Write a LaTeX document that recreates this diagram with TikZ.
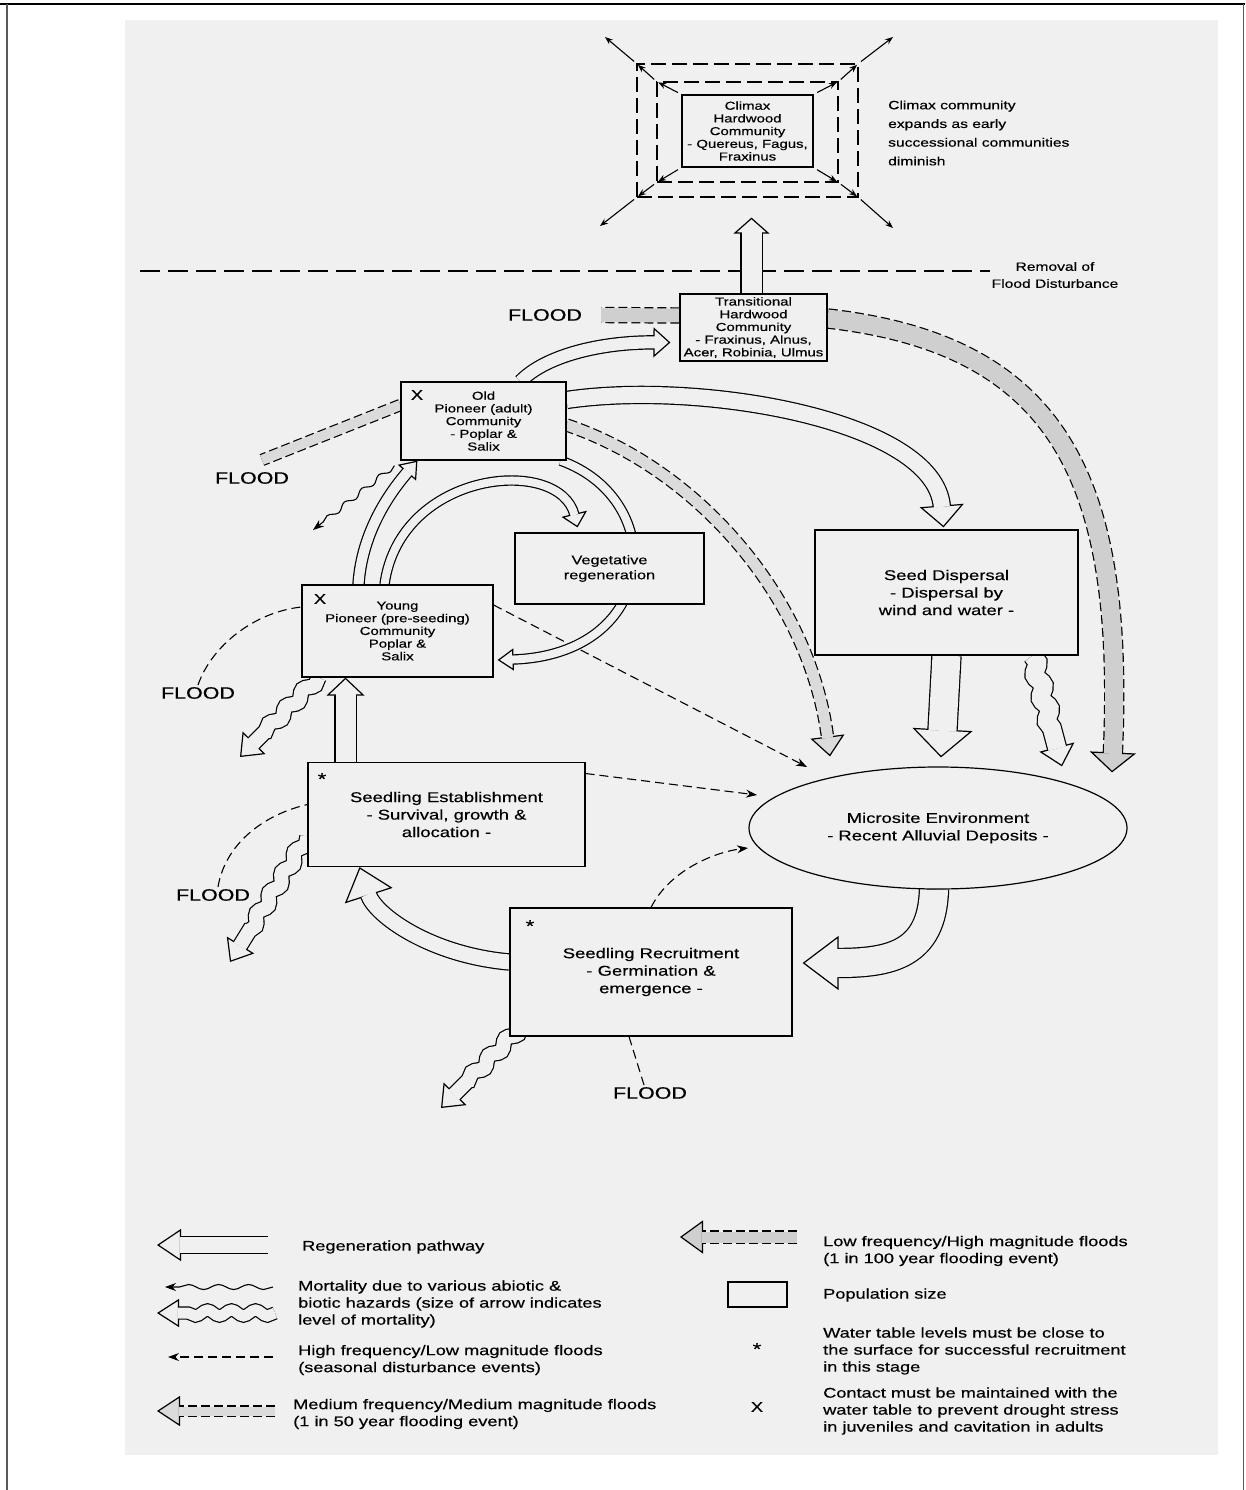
\documentclass[tikz,border=0pt]{standalone}
\usepackage{fontspec}
\setmainfont{Liberation Sans}[FakeStretch=1.3, FakeBold=0.4]
\usepackage{tikz}
\usetikzlibrary{arrows.meta,decorations.pathmorphing,shapes.geometric}
\definecolor{paper}{gray}{0.94}
\colorlet{midgray}{gray!28}
\colorlet{lowgray}{gray!38}
\pgfdeclarelayer{bg}
\pgfdeclarelayer{back}
\pgfsetlayers{bg,back,main}
\tikzstyle{stagebox} = [draw=black, line width=1.2pt, fill=paper, rectangle, inner sep=0pt, align=center]
\tikzstyle{spreadbox} = [draw=black, line width=1.2pt, dash pattern=on 15pt off 6pt, rectangle, inner sep=0pt]
\tikzstyle{smalltext} = [font=\fontsize{11.5}{12.7}\selectfont]
\tikzstyle{bigtext} = [font=\fontsize{14.2}{17.5}\selectfont]
\tikzstyle{floodlabel} = [font=\fontsize{16.5}{18}\selectfont, inner sep=2pt]
\tikzstyle{legendtext} = [font=\fontsize{14}{17}\selectfont, align=left, anchor=west, inner sep=0pt]
\tikzstyle{starmark} = [font=\fontsize{14}{14}\selectfont, inner sep=0pt]
\tikzstyle{floodline} = [line width=1.1pt, dash pattern=on 9pt off 5pt]
\tikzstyle{thinhead} = [-{Stealth[length=11pt, width=8pt]}]
\tikzstyle{spreadarrow} = [line width=1.1pt, -{Stealth[length=8pt, width=6pt]}]
\tikzset{
  regen/.style n args={3}{draw=paper, line width=1.2pt,
    -{Triangle[width=#2, length=#3, color=black, fill=paper]},
    preaction={draw=black, -, line width=#1+2.4pt, shorten >=#3-1.5pt},
    postaction={draw=paper, -, line width=#1, shorten >=#3-1.5pt}},
  mortal/.style n args={3}{draw=paper, line width=1.2pt,
    -{Triangle[width=#2, length=#3, color=black, fill=paper]},
    decoration={snake, amplitude=3pt, segment length=24pt, post length=28pt},
    preaction={draw=black, -, decorate, line width=#1+2.4pt, shorten >=#3-1.5pt},
    postaction={draw=paper, -, decorate, line width=#1, shorten >=#3-1.5pt}},
  floodband/.style n args={4}{draw=#4, line width=1.2pt,
    -{Triangle[width=#2, length=#3, color=black, fill=#4]},
    preaction={draw=black, -, line width=#1+2.4pt, dash pattern=on 9pt off 4pt, shorten >=#3-1.5pt},
    postaction={draw=#4, -, solid, line width=#1, shorten >=#3-1.5pt}},
  floodplain/.style 2 args={
    preaction={draw=black, line width=#1+2.4pt, dash pattern=on 9pt off 4pt},
    draw=#2, line width=#1}
}
\begin{document}
\begin{tikzpicture}[x=1pt, y=-1pt]
\useasboundingbox (0,0) rectangle (1245,1490);
\begin{pgfonlayer}{bg}
\fill[paper] (125,20) rectangle (1218,1455);
\draw[line width=2pt] (0,4) -- (1245,4);
\draw[line width=1.6pt, gray!70!black] (7,4) -- (7,1490);
\draw[line width=1pt, gray!70!black] (1243,4) -- (1243,1490);
\end{pgfonlayer}

% climax stage
\node[spreadbox, minimum width=221pt, minimum height=133pt] (climaxout) at (747.5,130.5) {};
\node[spreadbox, minimum width=181pt, minimum height=100pt] (climaxmid) at (747.5,132) {};
\node[stagebox, smalltext, minimum width=131pt, minimum height=72pt] (climax) at (747.5,131)
  {Climax\\Hardwood\\Community\\- Quereus, Fagus,\\Fraxinus};
\node[anchor=west, align=left, inner sep=0pt, font=\fontsize{12}{18.7}\selectfont] (climaxnote) at (888,133)
  {Climax community\\expands as early\\successional communities\\diminish};
\node[align=center, inner sep=2pt, font=\fontsize{12}{17}\selectfont] (removal) at (1055,275)
  {Removal of\\Flood Disturbance};
\coordinate (remstart) at (140,271);
\coordinate (spreadnw) at (605,37);
\coordinate (spreadne) at (893,37);
\coordinate (spreadsw) at (600,226);
\coordinate (spreadse) at (893,228);

% stages
\node[stagebox, smalltext, minimum width=147pt, minimum height=67pt] (trans) at (753.5,327.5)
  {Transitional\\Hardwood\\Community\\- Fraxinus, Alnus,\\Acer, Robinia, Ulmus};
\node[stagebox, smalltext, minimum width=165pt, minimum height=78pt] (oldpio) at (483.5,421)
  {Old\\Pioneer (adult)\\Community\\- Poplar \&\\Salix};
\node[stagebox, font=\fontsize{12.5}{15}\selectfont, minimum width=189pt, minimum height=71pt] (vegreg) at (609.5,568.5)
  {Vegetative\\regeneration};
\node[stagebox, smalltext, minimum width=191pt, minimum height=92pt] (youngpio) at (397.5,631)
  {Young\\Pioneer (pre-seeding)\\Community\\Poplar \&\\Salix};
\node[stagebox, bigtext, minimum width=263pt, minimum height=125pt] (seeddisp) at (946.5,592.5)
  {Seed Dispersal\\- Dispersal by\\wind and water -};
\node[stagebox, bigtext, minimum width=277pt, minimum height=104pt] (seedest) at (446.5,814.5)
  {Seedling Establishment\\- Survival, growth \&\\allocation -};
\node[ellipse, draw=black, line width=1.2pt, fill=paper, inner sep=0pt, align=center, bigtext,
  minimum width=378pt, minimum height=122pt] (micro) at (938,828)
  {Microsite Environment\\- Recent Alluvial Deposits -};
\node[stagebox, bigtext, minimum width=282pt, minimum height=128pt] (seedrec) at (651,972)
  {Seedling Recruitment\\- Germination \&\\emergence -};
\node[starmark] (oldx) at (417,395) {X};
\node[starmark] (youngx) at (320,599) {X};
\node[starmark, font=\fontsize{17}{17}\selectfont] (eststar) at (322,779) {*};
\node[starmark, font=\fontsize{17}{17}\selectfont] (recstar) at (530,926) {*};

\node[floodlabel] (floodA) at (545,315) {FLOOD};
\node[floodlabel] (floodB) at (252,478) {FLOOD};
\node[floodlabel] (floodC) at (198,693) {FLOOD};
\node[floodlabel] (floodD) at (213,895) {FLOOD};
\node[floodlabel] (floodE) at (650,1093) {FLOOD};
\coordinate (mortyoung) at (240,757);
\coordinate (mortest) at (230,962);
\coordinate (mortrec) at (441,1108);
\coordinate (mortold) at (313,530);

\foreach \c in {north west,north east,south west,south east}{
  \draw[spreadarrow, shorten <=4pt, shorten >=2pt] (climax.\c) -- (climaxmid.\c);
  \draw[spreadarrow, shorten <=3pt, shorten >=2pt] (climaxmid.\c) -- (climaxout.\c);
}
\draw[spreadarrow, shorten <=3pt] (climaxout.north west) -- (spreadnw);
\draw[spreadarrow, shorten <=3pt] (climaxout.north east) -- (spreadne);
\draw[spreadarrow, shorten <=3pt] (climaxout.south west) -- (spreadsw);
\draw[spreadarrow, shorten <=3pt] (climaxout.south east) -- (spreadse);

\begin{pgfonlayer}{back}
\draw[line width=1.1pt, dash pattern=on 20pt off 8pt] (remstart) -- (remstart -| removal.west);

% floods
\draw[floodplain={14pt}{lowgray}] ([shift={(0,-12)}]trans.west) -- ([shift={(17,0)}]floodA.east);
\draw[floodband={18pt}{46pt}{20pt}{lowgray}] ([shift={(0,-9)}]trans.east)
  .. controls (1060,345) and (1125,480) .. ([shift={(174,6)}]micro.north);
\draw[floodplain={10pt}{midgray}] ([shift={(0,-16)}]oldpio.west) -- ([shift={(10,-10)}]floodB.north);
\draw[floodband={11pt}{34pt}{20pt}{midgray}] ([shift={(0,4)}]oldpio.east)
  .. controls (700,470) and (810,600) .. ([shift={(-108,-10)}]micro.north);
\draw[floodline] (floodC.north) .. controls (212,645) and (255,612) .. ([shift={(0,-24)}]youngpio.west);
\draw[floodline, thinhead] ([shift={(0,-26)}]youngpio.east) -- ([shift={(-131,-61)}]micro.center);
\draw[floodline] ([shift={(5,0)}]floodD.north) .. controls (225,845) and (262,815) .. ([shift={(0,-10)}]seedest.west);
\draw[floodline, thinhead] ([shift={(0,-41)}]seedest.east) -- ([shift={(-181,-33)}]micro.center);
\draw[floodline, thinhead] (seedrec.north) .. controls (670,870) and (715,852) .. ([shift={(-190,20)}]micro.center);
\draw[floodline] ([shift={(-22,0)}]seedrec.south) -- ([shift={(-6,0)}]floodE.north);

% regeneration
\draw[regen={20pt}{36pt}{16pt}] ([shift={(-2,0)}]trans.north) -- ([shift={(4,20)}]climaxout.south);
\draw[regen={12pt}{30pt}{17pt}] ([shift={(37,0)}]oldpio.north)
  .. controls (545,356) and (600,342) .. ([shift={(-9,15)}]trans.west);
\draw[regen={16pt}{44pt}{22pt}] ([shift={(0,-21)}]oldpio.east)
  .. controls (700,380) and (935,420) .. ([shift={(-3,-2)}]seeddisp.north);
\draw[regen={8pt}{22pt}{16pt}] ([shift={(-6,0)}]oldpio.south east)
  .. controls (670,500) and (660,655) .. ([shift={(4,29)}]youngpio.east);
\draw[regen={8pt}{26pt}{14pt}] ([shift={(-13,0)}]youngpio.north)
  .. controls (400,470) and (560,455) .. ([shift={(-32,-5)}]vegreg.north);
\draw[regen={10pt}{24pt}{16pt}] ([shift={(-39,0)}]youngpio.north)
  .. controls (362,530) and (392,490) .. ([shift={(17,0)}]oldpio.south west);
\draw[regen={20pt}{38pt}{18pt}] ([shift={(-101,0)}]seedest.north) -- ([shift={(-52,0)}]youngpio.south);
\draw[regen={15pt}{50pt}{30pt}] ([shift={(0,-10)}]seedrec.west)
  .. controls (430,955) and (375,915) .. ([shift={(-87,0)}]seedest.south);
\draw[regen={28pt}{54pt}{36pt}] ([shift={(-4,0)}]micro.south)
  .. controls (932,955) and (890,963) .. ([shift={(10,-9)}]seedrec.east);
\draw[regen={28pt}{60pt}{28pt}] (seeddisp.south) -- ([shift={(3,-9)}]micro.north);

% mortality
\draw[mortal={18pt}{36pt}{20pt}] ([shift={(86,0)}]seeddisp.south) -- ([shift={(124,0)}]micro.north);
\draw[mortal={14pt}{32pt}{20pt}] ([shift={(-79,0)}]youngpio.south) -- (mortyoung);
\draw[mortal={14pt}{32pt}{20pt}] ([shift={(0,22)}]seedest.west) -- (mortest);
\draw[mortal={14pt}{32pt}{20pt}] ([shift={(12,-10)}]seedrec.south west) -- (mortrec);
\draw[line width=1.1pt, decorate, decoration={snake, amplitude=2.5pt, segment length=22pt, post length=10pt}, thinhead]
  ([shift={(-6,5)}]oldpio.south west) -- (mortold);
\end{pgfonlayer}

% legend
\node[legendtext] (legregen) at (302,1247) {Regeneration pathway};
\node[legendtext] (legmort) at (298,1304) {Mortality due to various abiotic \&\\biotic hazards (size of arrow indicates\\level of mortality)};
\node[legendtext] (leghigh) at (298,1360) {High frequency/Low magnitude floods\\(seasonal disturbance events)};
\node[legendtext] (legmed) at (293,1414) {Medium frequency/Medium magnitude floods\\(1 in 50 year flooding event)};
\node[legendtext] (leglow) at (823,1251) {Low frequency/High magnitude floods\\(1 in 100 year flooding event)};
\node[legendtext] (legpop) at (823,1295) {Population size};
\node[legendtext] (legstar) at (823,1351) {Water table levels must be close to\\the surface for successful recruitment\\in this stage};
\node[legendtext] (legx) at (823,1411) {Contact must be maintained with the\\water table to prevent drought stress\\in juveniles and cavitation in adults};
\node[draw=black, line width=1.2pt, minimum width=59pt, minimum height=25pt, inner sep=0pt] (popbox) at (757.5,1294.5) {};
\node[starmark, font=\fontsize{17}{17}\selectfont] (legstarmark) at (757,1349) {*};
\node[starmark] (legxmark) at (757,1407) {X};
\coordinate (lgregen) at (268,1245);
\coordinate (lgregenend) at (157,1245);
\coordinate (lgthin) at (273,1287);
\coordinate (lgthinend) at (165,1287);
\coordinate (lgmort) at (275,1313);
\coordinate (lgmortend) at (157,1313);
\coordinate (lghigh) at (273,1357);
\coordinate (lghighend) at (168,1357);
\coordinate (lgmed) at (275,1411);
\coordinate (lgmedend) at (157,1411);
\coordinate (lglow) at (797,1237);
\coordinate (lglowend) at (680,1237);
\draw[regen={16pt}{32pt}{24pt}] (lgregen) -- (lgregenend);
\draw[line width=1.1pt, decorate, decoration={snake, amplitude=2.5pt, segment length=30pt, post length=10pt}, thinhead] (lgthin) -- (lgthinend);
\draw[mortal={11pt}{28pt}{22pt}] (lgmort) -- (lgmortend);
\draw[floodline, thinhead] (lghigh) -- (lghighend);
\draw[floodband={9pt}{30pt}{23pt}{midgray}] (lgmed) -- (lgmedend);
\draw[floodband={11pt}{33pt}{23pt}{lowgray}] (lglow) -- (lglowend);
\end{tikzpicture}
\end{document}
